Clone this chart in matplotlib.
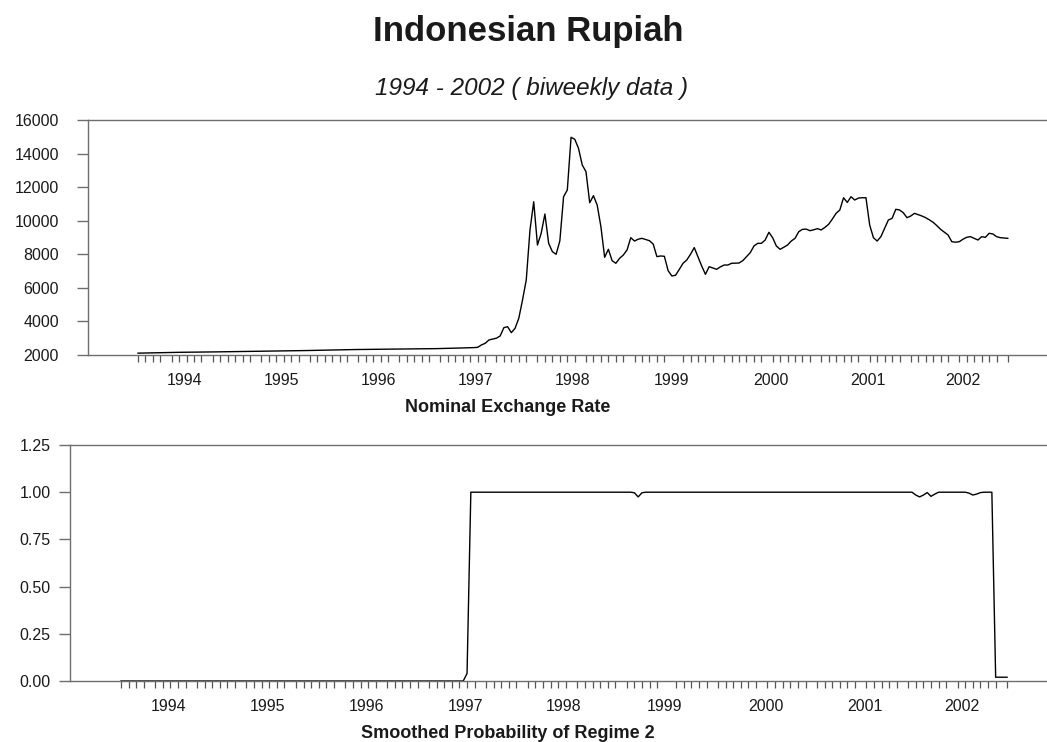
import numpy as np
import pandas as pd
import matplotlib
matplotlib.use("Agg")
import matplotlib.pyplot as plt
from matplotlib.ticker import FixedLocator

plt.rcParams['font.family'] = ['Liberation Sans', 'DejaVu Sans']

# Biweekly observations, January 1994 - December 2002
dates = pd.date_range("1994-01-07", periods=234, freq="14D")

# Rupiah per US dollar
rate = [
    2110, 2115, 2120, 2125, 2130, 2135, 2140, 2145, 2150, 2155, 2158, 2160, 2162,
    2165, 2168, 2170, 2172, 2175, 2178, 2180, 2183, 2186, 2190, 2193, 2196, 2200,
    2200, 2205, 2210, 2212, 2215, 2218, 2220, 2222, 2225, 2228, 2230, 2232, 2235,
    2238, 2240, 2245, 2250, 2255, 2260, 2265, 2270, 2275, 2280, 2285, 2290, 2300,
    2305, 2310, 2315, 2318, 2320, 2322, 2325, 2328, 2330, 2332, 2335, 2338, 2340,
    2342, 2345, 2347, 2350, 2352, 2355, 2357, 2360, 2362, 2365, 2368, 2370, 2372,
    2375, 2378, 2380, 2385, 2390, 2395, 2400, 2405, 2410, 2420, 2430, 2435, 2440,
    2458, 2600, 2697, 2893, 2950, 3000, 3132, 3628, 3688, 3330, 3588, 4185, 5276,
    6468, 9446, 11133, 8553, 9250, 10400, 8653, 8155, 8000, 8800, 11430, 11830, 14970,
    14850, 14310, 13320, 12920, 11070, 11490, 10935, 9645, 7820, 8297, 7620, 7463, 7760,
    7957, 8255, 8990, 8790, 8900, 8950, 8880, 8810, 8610, 7860, 7900, 7880, 7025,
    6710, 6750, 7100, 7463, 7660, 8000, 8400, 7850, 7300, 6806, 7260, 7180, 7105,
    7250, 7360, 7360, 7463, 7470, 7480, 7620, 7860, 8095, 8493, 8653, 8653, 8850,
    9310, 8990, 8493, 8295, 8420, 8553, 8790, 8950, 9347, 9486, 9500, 9405, 9460,
    9525, 9450, 9600, 9785, 10100, 10440, 10640, 11370, 11090, 11430, 11233, 11350, 11370,
    11370, 9745, 8990, 8790, 9050, 9550, 10042, 10140, 10680, 10640, 10477, 10180, 10280,
    10440, 10360, 10280, 10180, 10050, 9905, 9705, 9486, 9320, 9150, 8750, 8720, 8750,
    8900, 9012, 9050, 8950, 8850, 9050, 9010, 9250, 9210, 9050, 8990, 8970, 8950,
]

# Smoothed probability of the high-volatility regime
prob = [
    0, 0, 0, 0, 0, 0, 0, 0, 0, 0, 0, 0, 0,
    0, 0, 0, 0, 0, 0, 0, 0, 0, 0, 0, 0, 0,
    0, 0, 0, 0, 0, 0, 0, 0, 0, 0, 0, 0, 0,
    0, 0, 0, 0, 0, 0, 0, 0, 0, 0, 0, 0, 0,
    0, 0, 0, 0, 0, 0, 0, 0, 0, 0, 0, 0, 0,
    0, 0, 0, 0, 0, 0, 0, 0, 0, 0, 0, 0, 0,
    0, 0, 0, 0, 0, 0, 0, 0, 0, 0, 0, 0, 0,
    0.04, 1, 1, 1, 1, 1, 1, 1, 1, 1, 1, 1, 1,
    1, 1, 1, 1, 1, 1, 1, 1, 1, 1, 1, 1, 1,
    1, 1, 1, 1, 1, 1, 1, 1, 1, 1, 1, 1, 1,
    1, 1, 1, 1, 1, 0.997, 0.975, 0.997, 1, 1, 1, 1, 1,
    1, 1, 1, 1, 1, 1, 1, 1, 1, 1, 1, 1, 1,
    1, 1, 1, 1, 1, 1, 1, 1, 1, 1, 1, 1, 1,
    1, 1, 1, 1, 1, 1, 1, 1, 1, 1, 1, 1, 1,
    1, 1, 1, 1, 1, 1, 1, 1, 1, 1, 1, 1, 1,
    1, 1, 1, 1, 1, 1, 1, 1, 1, 1, 1, 1, 1,
    1, 0.985, 0.975, 0.985, 0.998, 0.978, 0.99, 1, 1, 1, 1, 1, 1,
    1, 1, 0.995, 0.985, 0.99, 0.998, 1, 1, 1, 0.02, 0.02, 0.02, 0.02,
]

rate_ticks = [2000, 4000, 6000, 8000, 10000, 12000, 14000, 16000]
prob_ticks = [0.0, 0.25, 0.5, 0.75, 1.0, 1.25]

idx = np.arange(len(dates))
years = sorted(set(dates.year))
year_pos = [idx[dates.year == y].mean() for y in years]
month_start = [i for i in idx if i == 0 or dates[i].month != dates[i - 1].month]

W, H = 1047, 742
fig = plt.figure(figsize=(W / 100, H / 100), dpi=100)


def box(left, top, right, bottom):
    return [left / W, 1 - bottom / H, (right - left) / W, (bottom - top) / H]


spine_col = "#6e6e6e"
text_col = "#1a1a1a"


def style(ax, ylabel_pad):
    ax.set_xlim(-13.4, 243.5)
    ax.spines['right'].set_visible(False)
    for s in ('left', 'top', 'bottom'):
        ax.spines[s].set_color(spine_col)
        ax.spines[s].set_linewidth(1.0)
    ax.xaxis.set_major_locator(FixedLocator(year_pos))
    ax.set_xticklabels([str(y) for y in years])
    ax.xaxis.set_minor_locator(FixedLocator(month_start))
    ax.tick_params(axis='x', which='major', length=0, pad=13,
                   labelsize=11.5, labelcolor=text_col)
    ax.tick_params(axis='x', which='minor', length=5, width=0.9,
                   color="#555555", direction='out')
    ax.tick_params(axis='y', which='major', length=8, width=1.0,
                   color=spine_col, direction='out', pad=ylabel_pad,
                   labelsize=11.5, labelcolor=text_col)


ax1 = fig.add_axes(box(88, 120, 1047, 355))
ax1.plot(idx, rate, color="black", lw=1.0)
ax1.set_ylim(2000, 16000)
ax1.set_yticks(rate_ticks)
ax1.set_yticklabels([str(v) for v in rate_ticks])
style(ax1, 13)

ax2 = fig.add_axes(box(70, 445, 1047, 681))
ax2.plot(idx, prob, color="black", lw=1.0)
ax2.set_ylim(0, 1.25)
ax2.set_yticks(prob_ticks)
ax2.set_yticklabels([f"{v:.2f}" for v in prob_ticks])
style(ax2, 6)

fig.text(528 / W, 1 - 32 / H, "Indonesian Rupiah", ha='center', va='center',
         fontsize=25, fontweight='bold', color=text_col)
fig.text(532 / W, 1 - 88 / H, "1994 - 2002 ( biweekly data )", ha='center',
         va='center', fontsize=17.5, fontstyle='italic', color=text_col)
fig.text(508 / W, 1 - 408 / H, "Nominal Exchange Rate", ha='center',
         va='center', fontsize=13, fontweight='bold', color=text_col)
fig.text(508 / W, 1 - 733 / H, "Smoothed Probability of Regime 2", ha='center',
         va='center', fontsize=13, fontweight='bold', color=text_col)

fig.savefig("out.png", dpi=100)
